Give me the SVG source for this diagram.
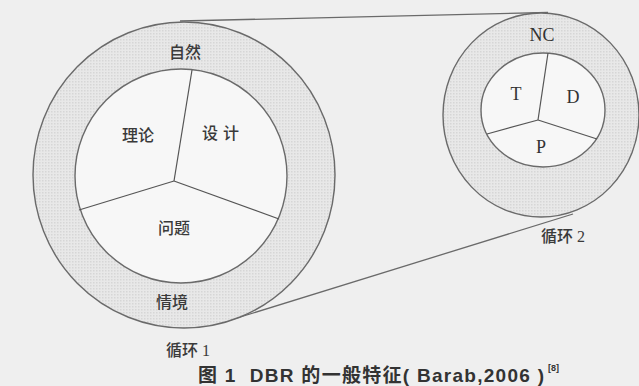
<svg xmlns="http://www.w3.org/2000/svg" width="639" height="386" viewBox="0 0 639 386">
<style>
.edge{fill:none;stroke:#6a6a6a;stroke-width:1.3}
.ring{fill:url(#dots);stroke:#6a6a6a;stroke-width:1.4}
.core{fill:#f7f7f7;stroke:#6a6a6a;stroke-width:1.4}
.spoke{fill:none;stroke:#555;stroke-width:1.2}
.cn{font-family:"Liberation Serif","Noto Sans CJK SC",serif;font-size:16px;fill:#3a3a3a;text-anchor:middle;dominant-baseline:central;font-weight:500}
.lt{font-family:"Liberation Serif",serif;font-size:18px;fill:#333;text-anchor:middle;dominant-baseline:central}
.cap{font-family:"Liberation Sans","Noto Sans CJK SC",sans-serif;font-size:19px;fill:#333;font-weight:bold}
</style>
<defs>
<pattern id="dots" width="3" height="3" patternUnits="userSpaceOnUse">
<rect width="3" height="3" fill="#e8e8e8"/>
<rect width="1.5" height="1.5" fill="#d6d6d6"/>
</pattern>
</defs>
<rect width="639" height="386" fill="#efefef"/>
<g id="connectors">
<line class="edge" x1="180" y1="21" x2="548" y2="12.5"/>
<line class="edge" x1="224" y1="322" x2="573" y2="214"/>
</g>
<g id="cycle1">
<ellipse class="ring" cx="184" cy="175" rx="151" ry="153"/>
<ellipse class="core" cx="181" cy="176" rx="106" ry="107"/>
<line class="spoke" x1="174" y1="181" x2="192" y2="70"/>
<line class="spoke" x1="174" y1="181" x2="79" y2="210"/>
<line class="spoke" x1="174" y1="181" x2="279" y2="219"/>
<text class="cn" x="185" y="52">自然</text>
<text class="cn" x="138" y="135">理论</text>
<text class="cn" x="223" y="133" letter-spacing="5">设计</text>
<text class="cn" x="174" y="228">问题</text>
<text class="cn" x="172" y="302">情境</text>
<text class="cn" x="188" y="350">循环 1</text>
</g>
<g id="cycle2">
<ellipse class="ring" cx="541" cy="115" rx="98" ry="102"/>
<ellipse class="core" cx="543" cy="110" rx="62" ry="57"/>
<line class="spoke" x1="538" y1="120" x2="548" y2="53"/>
<line class="spoke" x1="538" y1="120" x2="487" y2="134"/>
<line class="spoke" x1="538" y1="120" x2="597" y2="139"/>
<text class="lt" x="542" y="35">NC</text>
<text class="lt" x="516" y="94">T</text>
<text class="lt" x="573" y="97">D</text>
<text class="lt" x="541" y="147">P</text>
<text class="cn" x="563" y="236">循环 2</text>
</g>
<g id="caption">
<text class="cap" x="198" y="382" xml:space="preserve" textLength="346" lengthAdjust="spacing">图 1  DBR 的一般特征( Barab,2006 )</text>
<text class="cap" x="548" y="371" style="font-size:9px">[8]</text>
</g>
</svg>
